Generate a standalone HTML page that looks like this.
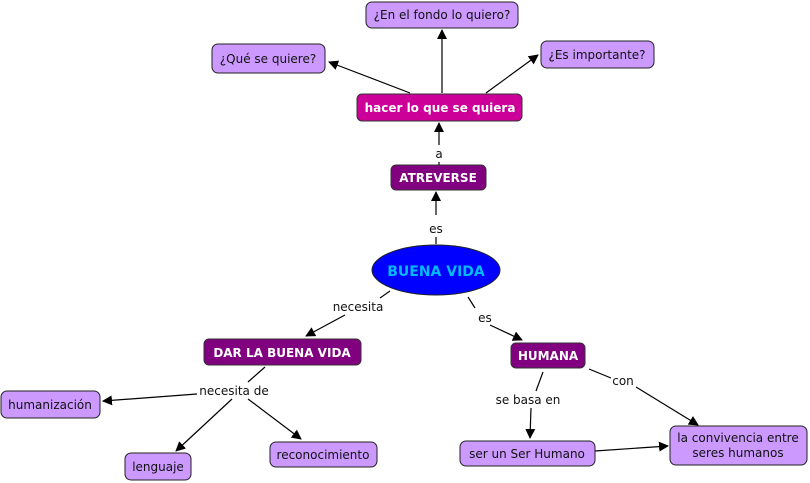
<!DOCTYPE html>
<html><head><meta charset="utf-8"><style>
body{margin:0;background:#fff}
svg{display:block}
text{font-family:"DejaVu Sans","Liberation Sans",sans-serif;font-size:12px}
.b{fill:#CC99FF;stroke:#222;stroke-width:1}
.t{fill:#111;text-anchor:middle}
.w{fill:#fff;text-anchor:middle;font-weight:bold}
.l{stroke:#000;stroke-width:1.2;fill:none}
.lb{fill:#111;text-anchor:middle}
</style></head><body>
<svg width="810" height="483" viewBox="0 0 810 483" xmlns="http://www.w3.org/2000/svg">
<defs><marker id="a" markerWidth="10" markerHeight="10" refX="9" refY="5" orient="auto" markerUnits="userSpaceOnUse"><path d="M0,0 L10,5 L0,10 Z" fill="#000"/></marker></defs>
<!-- lines -->
<line class="l" x1="410" y1="93" x2="329" y2="62" marker-end="url(#a)"/>
<line class="l" x1="442" y1="93" x2="442" y2="30" marker-end="url(#a)"/>
<line class="l" x1="486" y1="93" x2="538" y2="55" marker-end="url(#a)"/>
<line class="l" x1="439" y1="145" x2="439" y2="123" marker-end="url(#a)"/>
<line class="l" x1="439" y1="162" x2="439" y2="165"/>
<line class="l" x1="436" y1="215" x2="436" y2="192" marker-end="url(#a)"/>
<line class="l" x1="436" y1="237" x2="436" y2="244"/>
<line class="l" x1="390" y1="291" x2="380" y2="298"/>
<line class="l" x1="345" y1="315" x2="306" y2="336" marker-end="url(#a)"/>
<line class="l" x1="468" y1="297" x2="475" y2="308"/>
<line class="l" x1="490" y1="325" x2="522" y2="340" marker-end="url(#a)"/>
<line class="l" x1="265" y1="367" x2="248" y2="382"/>
<line class="l" x1="197" y1="394" x2="103" y2="401" marker-end="url(#a)"/>
<line class="l" x1="232" y1="399" x2="176" y2="451" marker-end="url(#a)"/>
<line class="l" x1="248" y1="399" x2="301" y2="439" marker-end="url(#a)"/>
<line class="l" x1="543" y1="372" x2="536" y2="391"/>
<line class="l" x1="531" y1="408" x2="530" y2="438" marker-end="url(#a)"/>
<line class="l" x1="589" y1="369" x2="611" y2="378"/>
<line class="l" x1="636" y1="387" x2="698" y2="425" marker-end="url(#a)"/>
<line class="l" x1="595" y1="451" x2="668" y2="446" marker-end="url(#a)"/>
<!-- labels -->
<text class="lb" x="439" y="158">a</text>
<text class="lb" x="436" y="233">es</text>
<text class="lb" x="358" y="311">necesita</text>
<text class="lb" x="485" y="322">es</text>
<text class="lb" x="234" y="395">necesita de</text>
<text class="lb" x="528" y="404">se basa en</text>
<text class="lb" x="623" y="385">con</text>
<!-- nodes -->
<rect class="b" x="366" y="2" width="152" height="26" rx="6"/><text class="t" x="442" y="19">¿En el fondo lo quiero?</text>
<rect class="b" x="212" y="44" width="113" height="29" rx="6"/><text class="t" x="268" y="63">¿Qué se quiere?</text>
<rect class="b" x="541" y="41" width="113" height="27" rx="6"/><text class="t" x="597" y="59">¿Es importante?</text>
<rect x="357" y="94" width="165" height="27" rx="5" fill="#CC0099" stroke="#333"/><text class="w" x="440" y="112">hacer lo que se quiera</text>
<rect x="391" y="165" width="95" height="25" rx="5" fill="#800080" stroke="#333"/><text class="w" x="438" y="182">ATREVERSE</text>
<ellipse cx="436" cy="270" rx="64" ry="25" fill="#0000FF" stroke="#222"/><text x="436" y="276" text-anchor="middle" font-weight="bold" style="font-size:14px" fill="#00BBFF">BUENA VIDA</text>
<rect x="204" y="339" width="157" height="26" rx="5" fill="#800080" stroke="#333"/><text class="w" x="282" y="357">DAR LA BUENA VIDA</text>
<rect x="511" y="343" width="74" height="25" rx="5" fill="#800080" stroke="#333"/><text class="w" x="548" y="360">HUMANA</text>
<rect class="b" x="1" y="391" width="99" height="27" rx="6"/><text class="t" x="50" y="409">humanización</text>
<rect class="b" x="125" y="453" width="66" height="27" rx="6"/><text class="t" x="158" y="471">lenguaje</text>
<rect class="b" x="270" y="442" width="107" height="25" rx="6"/><text class="t" x="323" y="459">reconocimiento</text>
<rect class="b" x="460" y="441" width="135" height="25" rx="6"/><text class="t" x="527" y="458">ser un Ser Humano</text>
<rect class="b" x="670" y="426" width="137" height="39" rx="6"/><text class="t" x="738" y="442">la convivencia entre</text><text class="t" x="738" y="457">seres humanos</text>
</svg>
</body></html>
